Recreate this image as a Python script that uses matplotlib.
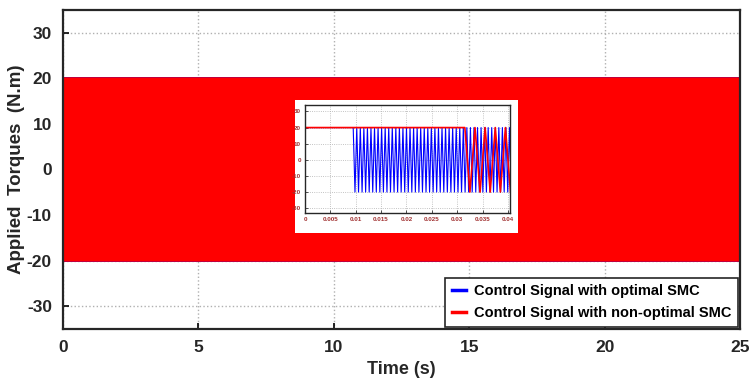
import numpy as np
import matplotlib.pyplot as plt
from matplotlib.patches import Rectangle

# values
u_max = 20.0            # switching level (N.m)
t_end = 25.0            # simulation length (s)
blue_start = 0.0095     # optimal SMC starts chattering here (s)
blue_period = 0.0007    # chattering period, optimal SMC (s)
red_start = 0.0315      # non-optimal SMC holds +u_max until here (s)
red_period = 0.002      # chattering period, non-optimal SMC (s)

main_xticks = [0, 5, 10, 15, 20, 25]
main_yticks = [-30, -20, -10, 0, 10, 20, 30]
inset_xticks = [0, 0.005, 0.01, 0.015, 0.02, 0.025, 0.03, 0.035, 0.04]
inset_xlabels = ['0', '0.005', '0.01', '0.015', '0.02', '0.025', '0.03', '0.035', '0.04']
inset_yticks = [-30, -20, -10, 0, 10, 20, 30]

labels = ['Control Signal with optimal SMC', 'Control Signal with non-optimal SMC']
colors = ['#0000ff', '#ff0000']


def switching(t0, half, t_stop):
    # bang-bang signal: holds +u_max, then flips between +u_max and -u_max
    t = np.arange(t0, t_stop + half, half)
    u = np.where(np.arange(len(t)) % 2 == 0, u_max, -u_max)
    return np.concatenate([[0.0], t]), np.concatenate([[u_max], u])


t_blue, u_blue = switching(blue_start, blue_period / 2, t_end)
t_red, u_red = switching(red_start, red_period / 2, t_end)

plt.rcParams['font.family'] = ['Liberation Sans Narrow', 'Liberation Sans', 'DejaVu Sans']
plt.rcParams['font.weight'] = 'bold'
plt.rcParams['axes.unicode_minus'] = False

fig = plt.figure(figsize=(7.5, 3.85), dpi=100)
ax = fig.add_axes([63 / 750, 1 - 329 / 385, 677 / 750, 319 / 385])

ax.plot(t_blue, u_blue, color=colors[0], lw=1.0, label=labels[0])
ax.plot(t_red, u_red, color=colors[1], lw=1.0, label=labels[1])

ax.set_xlim(0, 25)
ax.set_ylim(-35, 35)
ax.set_xticks(main_xticks)
ax.set_yticks(main_yticks)
ax.tick_params(direction='in', length=4, width=1.2, labelsize=12.5, pad=8)
for lab in ax.get_xticklabels() + ax.get_yticklabels():
    lab.set_fontweight('bold')
    lab.set_color('#262626')
ax.grid(True, ls=':', color='#b0b0b0', lw=1.0)
for s in ax.spines.values():
    s.set_linewidth(1.6)
    s.set_color('#262626')
ax.set_xlabel('Time (s)', fontsize=13, fontweight='bold', color='#262626', labelpad=4)
ax.set_ylabel('Applied  Torques  (N.m)', fontsize=13.5, fontweight='bold', color='#262626')
ax.yaxis.set_label_coords(-0.056, 0.5)

leg = ax.legend(loc='lower right', bbox_to_anchor=(1.0, 0.0), borderaxespad=0.15,
                fancybox=False, edgecolor='#262626', framealpha=1,
                prop={'weight': 'bold', 'size': 10.5}, handlelength=1.0,
                handletextpad=0.5, labelspacing=0.55, borderpad=0.45)
leg.get_frame().set_linewidth(1.2)
for h in leg.get_lines():
    h.set_linewidth(2.5)

# white background behind the zoomed view
fig.patches.append(Rectangle((295 / 750, 1 - 233 / 385), 223 / 750, 133 / 385,
                             transform=fig.transFigure, facecolor='white',
                             edgecolor='none', zorder=3))

ins = fig.add_axes([305 / 750, 1 - 213 / 385, 205 / 750, 108 / 385])
ins.set_zorder(5)
ins.plot(t_blue, u_blue, color=colors[0], lw=0.8)
ins.plot(t_red, u_red, color=colors[1], lw=1.2)
ins.set_xlim(0, 0.0404)
ins.set_ylim(-33, 34)
ins.set_xticks(inset_xticks)
ins.set_xticklabels(inset_xlabels)
ins.set_yticks(inset_yticks)
ins.tick_params(direction='in', length=2, width=0.6, labelsize=4.5, pad=3,
                colors='#333333', labelcolor='#a03030')
ins.grid(True, ls=':', color='#b0b0b0', lw=0.6)
for s in ins.spines.values():
    s.set_linewidth(1.0)
    s.set_color('#262626')

fig.savefig('out.png', dpi=100)
